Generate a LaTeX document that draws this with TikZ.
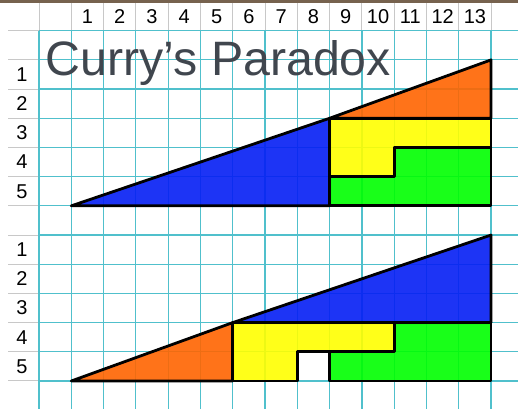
\documentclass[tikz,border=0pt]{standalone}
\usepackage{fontspec}
\setmainfont{Liberation Sans}
\usepackage{xcolor}
\usepackage{tikz}
\definecolor{gridteal}{RGB}{80,192,204}
\definecolor{headgray}{RGB}{200,200,200}
\definecolor{titlegray}{RGB}{64,70,78}
\definecolor{topbrown}{RGB}{118,98,78}
\definecolor{pieceblue}{RGB}{5,30,245}
\definecolor{pieceorange}{RGB}{255,100,0}
\definecolor{pieceyellow}{RGB}{255,255,0}
\definecolor{piecegreen}{RGB}{0,255,0}

\begin{document}
\begin{tikzpicture}[
  x=32.29pt, y=29.19pt,
  gridline/.style={draw=gridteal, line width=1.2pt},
  headline/.style={draw=headgray, line width=1pt},
  piece/.style={draw=black, line width=2.8pt, line join=round, fill opacity=0.9},
  colnum/.style={font=\fontsize{20}{22}\selectfont, inner sep=0pt},
  rownum/.style={font=\fontsize{20}{22}\selectfont, inner sep=0pt}
]
\useasboundingbox (-1.2078,1.0517) rectangle (14.834,-12.960);
\fill[white] (-1.2078,1.0517) rectangle (14.834,-12.960);
\fill[topbrown] (-1.2078,0.95) rectangle (14.834,1.0517);
% squared paper
\foreach \c in {0,...,14} \draw[headline] (\c,0.95) -- (\c,0);
\foreach \r in {0,...,12} \draw[headline] (-0.96,-\r) -- (0,-\r);
\foreach \c in {0,...,14} \draw[gridline] (\c,0) -- (\c,-12.96);
\foreach \r in {0,...,12} \draw[gridline] (0,-\r) -- (14.834,-\r);
\foreach \c in {1,...,13} \node[colnum] (col\c) at (\c+0.5,0.47) {\c};
\foreach \r in {1,...,5} {
  \node[rownum] (rowa\r) at (-0.53,-\r-0.5) {\r};
  \node[rownum] (rowb\r) at (-0.53,-\r-6.5) {\r};
}
\node[font=\fontsize{48.3}{52}\selectfont, text=titlegray, anchor=base west, inner sep=0pt] (title) at (0.2,-1.518) {Curry’s Paradox};
% first arrangement
\draw[piece, fill=pieceblue] (1,-6) -- (9,-6) -- (9,-3) -- cycle;
\draw[piece, fill=pieceorange] (9,-3) -- (14,-3) -- (14,-1) -- cycle;
\draw[piece, fill=pieceyellow] (9,-3) -- (14,-3) -- (14,-4) -- (11,-4) -- (11,-5) -- (9,-5) -- cycle;
\draw[piece, fill=piecegreen] (9,-5) -- (11,-5) -- (11,-4) -- (14,-4) -- (14,-6) -- (9,-6) -- cycle;
% second arrangement
\draw[piece, fill=pieceorange] (1,-12) -- (6,-12) -- (6,-10) -- cycle;
\draw[piece, fill=pieceblue] (6,-10) -- (14,-10) -- (14,-7) -- cycle;
\draw[piece, fill=pieceyellow] (6,-10) -- (11,-10) -- (11,-11) -- (8,-11) -- (8,-12) -- (6,-12) -- cycle;
\draw[piece, fill=piecegreen] (9,-12) -- (9,-11) -- (11,-11) -- (11,-10) -- (14,-10) -- (14,-12) -- cycle;
\end{tikzpicture}
\end{document}
